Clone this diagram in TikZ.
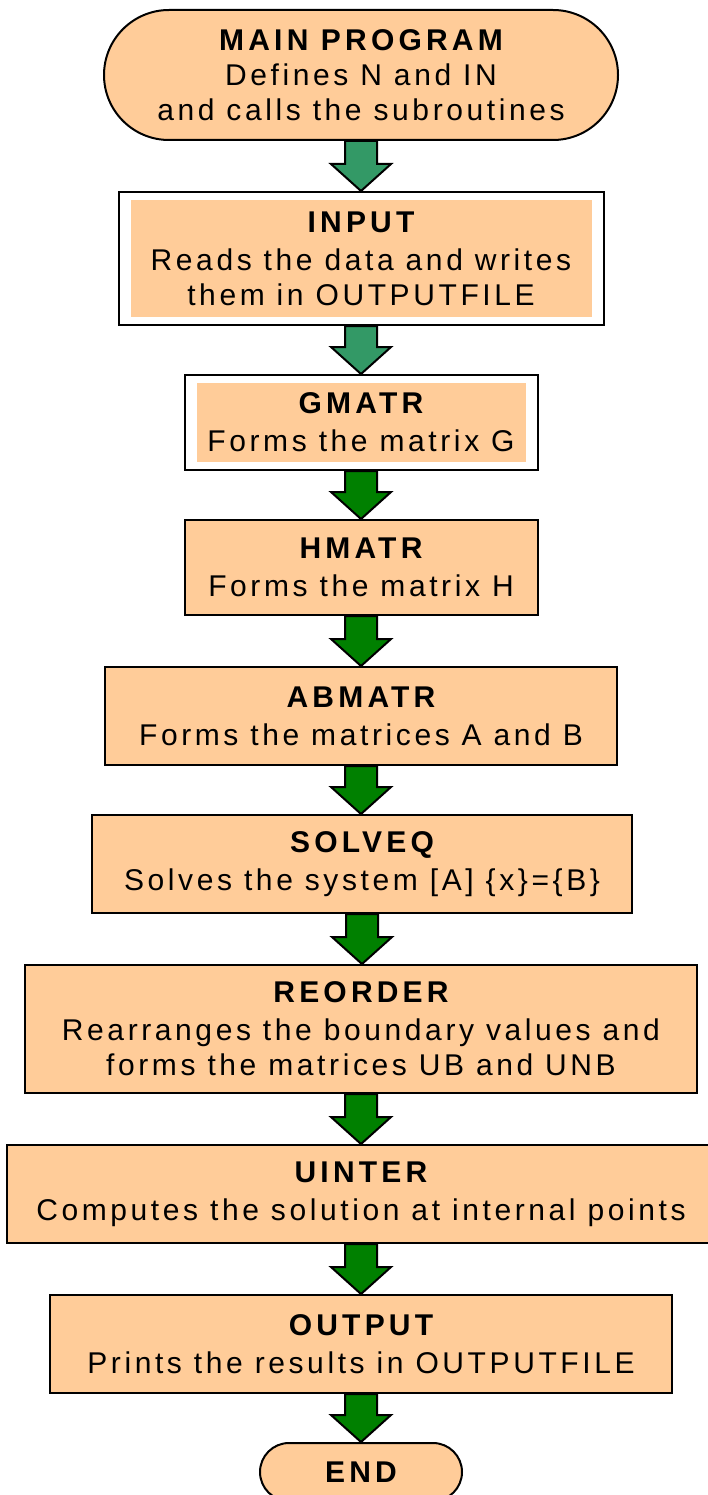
\documentclass[tikz,border=0pt]{standalone}
\usepackage{fontspec}
\setmainfont[LetterSpace=12]{Liberation Sans}
\usepackage{tikz}
\usetikzlibrary{calc, shapes.misc}

\definecolor{boxorange}{HTML}{FFCC99}
\definecolor{tealgreen}{HTML}{339966}
\definecolor{darkgreen}{HTML}{008000}

\newcommand{\boxtitle}[1]{{\bfseries\addfontfeatures{LetterSpace=14}#1}}
\newcommand{\flowarrow}[3][darkgreen]{%
  \filldraw[blockarrow, fill=#1] let \p1=(#2.south), \p2=(#3.north) in
    (\x1-16pt,\y1) -- (\x1+16pt,\y1) -- (\x1+16pt,\y2+27pt) -- (\x1+30pt,\y2+27pt)
    -- (\x1,\y2) -- (\x1-30pt,\y2+27pt) -- (\x1-16pt,\y2+27pt) -- cycle;}

\tikzset{
  flowtext/.style={align=center, font=\fontsize{30}{35}\selectfont, text=black},
  terminal/.style={flowtext, rounded rectangle, draw, line width=2pt, fill=boxorange, inner sep=0pt},
  procbox/.style={flowtext, rectangle, draw, line width=2pt, fill=boxorange, inner sep=0pt},
  framedbox/.style={flowtext, rectangle, draw, line width=2pt, fill=white, inner sep=0pt,
    path picture={\fill[boxorange] ($(path picture bounding box.south west)+(12pt,8pt)$)
      rectangle ($(path picture bounding box.north east)-(12pt,8pt)$);}},
  blockarrow/.style={draw=black, line width=2pt, line join=miter}
}

\begin{document}
\begin{tikzpicture}[x=1pt, y=-1pt]
  \useasboundingbox (0,0) rectangle (707,1495);
  % boxes of the flow chart
  \node[terminal, minimum width=514pt, minimum height=130pt] (main) at (361,75)
    {\boxtitle{MAIN PROGRAM}\\Defines N and IN\\and calls the subroutines};
  \node[framedbox, minimum width=485pt, minimum height=133pt] (input) at (361,258.5)
    {\boxtitle{INPUT}\\[3pt]Reads the data and writes\\them in OUTPUTFILE};
  \node[framedbox, minimum width=353pt, minimum height=95pt] (gmatr) at (361,422.5)
    {\boxtitle{GMATR}\\[3pt]Forms the matrix G};
  \node[procbox, minimum width=353pt, minimum height=95pt] (hmatr) at (361,567.5)
    {\boxtitle{HMATR}\\[3pt]Forms the matrix H};
  \node[procbox, minimum width=512pt, minimum height=98pt] (abmatr) at (361,716)
    {\boxtitle{ABMATR}\\[3pt]Forms the matrices A and B};
  \node[procbox, minimum width=540pt, minimum height=98pt] (solveq) at (362,864)
    {\boxtitle{SOLVEQ}\\[3pt]Solves the system [A] \{x\}=\{B\}};
  \node[procbox, minimum width=672pt, minimum height=128pt] (reorder) at (361,1029)
    {\boxtitle{REORDER}\\[3pt]Rearranges the boundary values and\\forms the matrices UB and UNB};
  \node[procbox, minimum width=708pt, minimum height=98pt] (uinter) at (361,1194)
    {\boxtitle{UINTER}\\[3pt]Computes the solution at internal points};
  \node[procbox, minimum width=622pt, minimum height=98pt] (output) at (361,1344)
    {\boxtitle{OUTPUT}\\[3pt]Prints the results in OUTPUTFILE};
  \node[terminal, minimum width=202pt, minimum height=58pt] (end) at (361,1472)
    {\boxtitle{END}};
  % arrows
  \flowarrow[tealgreen]{main}{input}
  \flowarrow[tealgreen]{input}{gmatr}
  \flowarrow{gmatr}{hmatr}
  \flowarrow{hmatr}{abmatr}
  \flowarrow{abmatr}{solveq}
  \flowarrow{solveq}{reorder}
  \flowarrow{reorder}{uinter}
  \flowarrow{uinter}{output}
  \flowarrow{output}{end}
\end{tikzpicture}
\end{document}
